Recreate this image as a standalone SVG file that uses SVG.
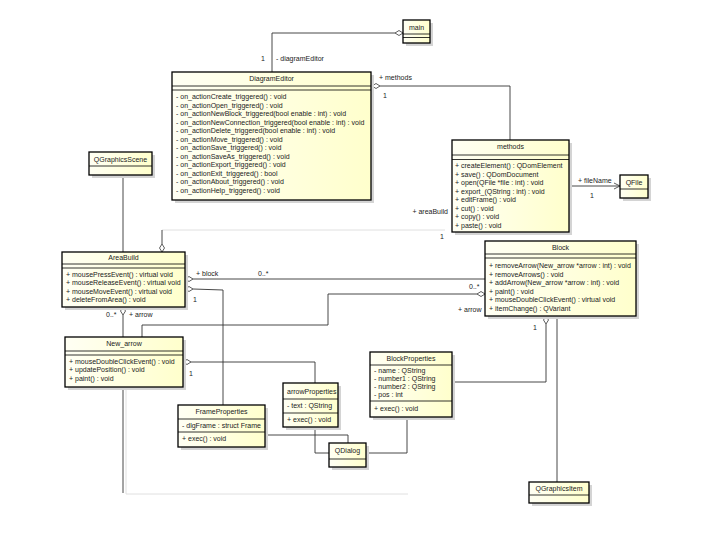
<svg xmlns="http://www.w3.org/2000/svg" width="720" height="540" viewBox="0 0 720 540">
<defs>
<linearGradient id="fill" x1="0" y1="0" x2="1" y2="0">
<stop offset="0" stop-color="#fffff4"/>
<stop offset="1" stop-color="#ffffcc"/>
</linearGradient>
<marker id="open" markerWidth="8" markerHeight="8" refX="7" refY="4" orient="auto" markerUnits="userSpaceOnUse">
<path d="M1,1 L7,4 L1,7" fill="none" stroke="#333" stroke-width="0.8"/>
</marker>
</defs>
<style>
.box{fill:url(#fill);stroke:#000;stroke-width:1.3}
.sh{fill:#d4d4d4}
.sep{stroke:#000;stroke-width:0.8}
text{font-family:"Liberation Sans",Arial,sans-serif;font-size:7px;fill:#222}
.t{text-anchor:middle}
.c{fill:none;stroke:#333;stroke-width:0.9}
.f{fill:none;stroke:#ddd;stroke-width:0.9}
.d{fill:#fff;stroke:#333;stroke-width:0.8}
</style>
<rect width="720" height="540" fill="#fff"/>

<g id="connectors">
<polyline class="c" points="272,72 272,33 395,33"/>
<path class="d" d="M395,33 l4,-2.5 l4,2.5 l-4,2.5 z"/>
<text x="276" y="61">- diagramEditor</text>
<text x="261" y="61">1</text>

<polyline class="c" points="380,86 510,86 510,140"/>
<path class="d" d="M372,86 l4,-2.5 l4,2.5 l-4,2.5 z"/>
<text x="379" y="80">+ methods</text>
<text x="383" y="98">1</text>

<line class="c" x1="569" y1="186" x2="620" y2="186" marker-end="url(#open)"/>
<text x="578" y="183">+ fileName</text>
<text x="590" y="198">1</text>

<line class="c" x1="123" y1="175" x2="123" y2="252"/>

<polyline class="f" points="162,230 445,230"/>
<line class="c" x1="162" y1="230" x2="162" y2="244"/>
<path class="d" d="M162,244 l2.5,4 l-2.5,4 l-2.5,-4 z"/>
<text x="448" y="214" style="text-anchor:end">+ areaBuild</text>
<text x="440" y="239">1</text>

<line class="c" x1="193" y1="279" x2="485" y2="279"/>
<path class="d" d="M185,279 l4,-2.5 l4,2.5 l-4,2.5 z"/>
<text x="196" y="276">+ block</text>
<text x="258" y="276">0..*</text>
<text x="469" y="289">0..*</text>

<polyline class="c" points="193,289 223,290 223,405"/>
<path class="d" d="M185,289 l4,-2.5 l4,2.5 l-4,2.5 z"/>
<text x="193" y="302">1</text>

<polyline class="c" points="477,294 328,294 328,325 142,325 142,337"/>
<path class="d" d="M477,294 l4,-2.5 l4,2.5 l-4,2.5 z"/>
<text x="458" y="312">+ arrow</text>

<line class="c" x1="123" y1="315" x2="123" y2="337"/>
<path class="d" d="M123,307 l2.5,4 l-2.5,4 l-2.5,-4 z"/>
<text x="106" y="317">0..*</text>
<text x="129" y="317">+ arrow</text>

<polyline class="c" points="191,362 315,362 315,383"/>
<path class="d" d="M183,362 l4,-2.5 l4,2.5 l-4,2.5 z"/>
<text x="189" y="376">1</text>

<line class="c" x1="123" y1="387" x2="123" y2="493"/>
<polyline class="f" points="126,387 126,494 408,494"/>

<polyline class="c" points="546,324 546,382 452,382"/>
<path class="d" d="M546,316 l2.5,4 l-2.5,4 l-2.5,-4 z"/>
<text x="533" y="330">1</text>

<line class="c" x1="557" y1="316" x2="557" y2="482"/>

<polyline class="c" points="315,427 315,453 329,453"/>
<polyline class="c" points="265,435 348,435 348,443"/>
<polyline class="c" points="407,417 407,453 366,453"/>
</g>

<g id="main">
<rect class="sh" x="406" y="23" width="27" height="23"/>
<rect class="box" x="403" y="20" width="27" height="23"/>
<text class="t" x="416.5" y="30">main</text>
<line class="sep" x1="403" y1="34" x2="430" y2="34"/>
<line class="sep" x1="403" y1="37.5" x2="430" y2="37.5"/>
</g>

<g id="DiagramEditor">
<rect class="sh" x="175" y="75" width="199" height="128"/>
<rect class="box" x="172" y="72" width="199" height="128"/>
<text class="t" x="271.5" y="81">DiagramEditor</text>
<line class="sep" x1="172" y1="86" x2="371" y2="86"/>
<line class="sep" x1="172" y1="90" x2="371" y2="90"/>
<text x="176" y="99">- on_actionCreate_triggered() : void</text>
<text x="176" y="107.5">- on_actionOpen_triggered() : void</text>
<text x="176" y="116">- on_actionNewBlock_triggered(bool enable : int) : void</text>
<text x="176" y="124.5">- on_actionNewConnection_triggered(bool enable : int) : void</text>
<text x="176" y="133">- on_actionDelete_triggered(bool enable : int) : void</text>
<text x="176" y="141.5">- on_actionMove_triggered() : void</text>
<text x="176" y="150">- on_actionSave_triggered() : void</text>
<text x="176" y="158.5">- on_actionSaveAs_triggered() : void</text>
<text x="176" y="167">- on_actionExport_triggered() : void</text>
<text x="176" y="175.5">- on_actionExit_triggered() : bool</text>
<text x="176" y="184">- on_actionAbout_triggered() : void</text>
<text x="176" y="192.5">- on_actionHelp_triggered() : void</text>
</g>

<g id="methods">
<rect class="sh" x="455" y="143" width="117" height="92"/>
<rect class="box" x="452" y="140" width="117" height="92"/>
<text class="t" x="510.5" y="149">methods</text>
<line class="sep" x1="452" y1="155" x2="569" y2="155"/>
<line class="sep" x1="452" y1="159.5" x2="569" y2="159.5"/>
<text x="455" y="168">+ createElement() : QDomElement</text>
<text x="455" y="176.5">+ save() : QDomDocument</text>
<text x="455" y="185">+ open(QFile *file : int) : void</text>
<text x="455" y="193.5">+ export_(QString : int) : void</text>
<text x="455" y="202">+ editFrame() : void</text>
<text x="455" y="210.5">+ cut() : void</text>
<text x="455" y="219">+ copy() : void</text>
<text x="455" y="227.5">+ paste() : void</text>
</g>

<g id="QFile">
<rect class="sh" x="623" y="178" width="28" height="23"/>
<rect class="box" x="620" y="175" width="28" height="23"/>
<text class="t" x="634" y="184.5">QFile</text>
<line class="sep" x1="620" y1="189" x2="648" y2="189"/>
</g>

<g id="QGraphicsScene">
<rect class="sh" x="92" y="155" width="63" height="23"/>
<rect class="box" x="89" y="152" width="63" height="23"/>
<text class="t" x="120.5" y="161.5">QGraphicsScene</text>
<line class="sep" x1="89" y1="166" x2="152" y2="166"/>
</g>

<g id="AreaBuild">
<rect class="sh" x="65" y="255" width="123" height="55"/>
<rect class="box" x="62" y="252" width="123" height="55"/>
<text class="t" x="123.5" y="260">AreaBuild</text>
<line class="sep" x1="62" y1="264" x2="185" y2="264"/>
<line class="sep" x1="62" y1="268" x2="185" y2="268"/>
<text x="66" y="276.5">+ mousePressEvent() : virtual void</text>
<text x="66" y="285">+ mouseReleaseEvent() : virtual void</text>
<text x="66" y="293.5">+ mouseMoveEvent() : virtual void</text>
<text x="66" y="302">+ deleteFromArea() : void</text>
</g>

<g id="Block">
<rect class="sh" x="488" y="244" width="151" height="75"/>
<rect class="box" x="485" y="241" width="151" height="75"/>
<text class="t" x="560.5" y="249.5">Block</text>
<line class="sep" x1="485" y1="254" x2="636" y2="254"/>
<line class="sep" x1="485" y1="258" x2="636" y2="258"/>
<text x="489" y="268">+ removeArrow(New_arrow *arrow : int) : void</text>
<text x="489" y="276.5">+ removeArrows() : void</text>
<text x="489" y="285">+ addArrow(New_arrow *arrow : int) : void</text>
<text x="489" y="293.5">+ paint() : void</text>
<text x="489" y="302">+ mouseDoubleClickEvent() : virtual void</text>
<text x="489" y="310.5">+ itemChange() : QVariant</text>
</g>

<g id="New_arrow">
<rect class="sh" x="68" y="340" width="118" height="50"/>
<rect class="box" x="65" y="337" width="118" height="50"/>
<text class="t" x="124" y="345.5">New_arrow</text>
<line class="sep" x1="65" y1="351" x2="183" y2="351"/>
<line class="sep" x1="65" y1="355" x2="183" y2="355"/>
<text x="69" y="363.5">+ mouseDoubleClickEvent() : void</text>
<text x="69" y="372">+ updatePosition() : void</text>
<text x="69" y="380.5">+ paint() : void</text>
</g>

<g id="ArrowProperties">
<rect class="sh" x="286" y="386" width="55" height="44"/>
<rect class="box" x="283" y="383" width="55" height="44"/>
<text x="287" y="394">arrowProperties</text>
<line class="sep" x1="283" y1="399" x2="338" y2="399"/>
<text x="287" y="408">- text : QString</text>
<line class="sep" x1="283" y1="413" x2="338" y2="413"/>
<text x="287" y="422">+ exec() : void</text>
</g>

<g id="FrameProperties">
<rect class="sh" x="181" y="408" width="87" height="42"/>
<rect class="box" x="178" y="405" width="87" height="42"/>
<text class="t" x="221.5" y="414">FrameProperties</text>
<line class="sep" x1="178" y1="419" x2="265" y2="419"/>
<text x="182" y="428">- dlgFrame : struct Frame</text>
<line class="sep" x1="178" y1="432" x2="265" y2="432"/>
<text x="182" y="441">+ exec() : void</text>
</g>

<g id="BlockProperties">
<rect class="sh" x="373" y="355" width="82" height="65"/>
<rect class="box" x="370" y="352" width="82" height="65"/>
<text class="t" x="411" y="360.5">BlockProperties</text>
<line class="sep" x1="370" y1="365" x2="452" y2="365"/>
<text x="374" y="373">- name : QString</text>
<text x="374" y="381">- number1 : QString</text>
<text x="374" y="389">- number2 : QString</text>
<text x="374" y="397">- pos : int</text>
<line class="sep" x1="370" y1="401" x2="452" y2="401"/>
<text x="374" y="410.5">+ exec() : void</text>
</g>

<g id="QDialog">
<rect class="sh" x="332" y="446" width="37" height="24"/>
<rect class="box" x="329" y="443" width="37" height="24"/>
<text class="t" x="347.5" y="453">QDialog</text>
<line class="sep" x1="329" y1="459" x2="366" y2="459"/>
</g>

<g id="QGraphicsItem">
<rect class="sh" x="532" y="485" width="60" height="21"/>
<rect class="box" x="529" y="482" width="60" height="21"/>
<text class="t" x="559" y="491">QGraphicsItem</text>
<line class="sep" x1="529" y1="495" x2="589" y2="495"/>
</g>
</svg>
